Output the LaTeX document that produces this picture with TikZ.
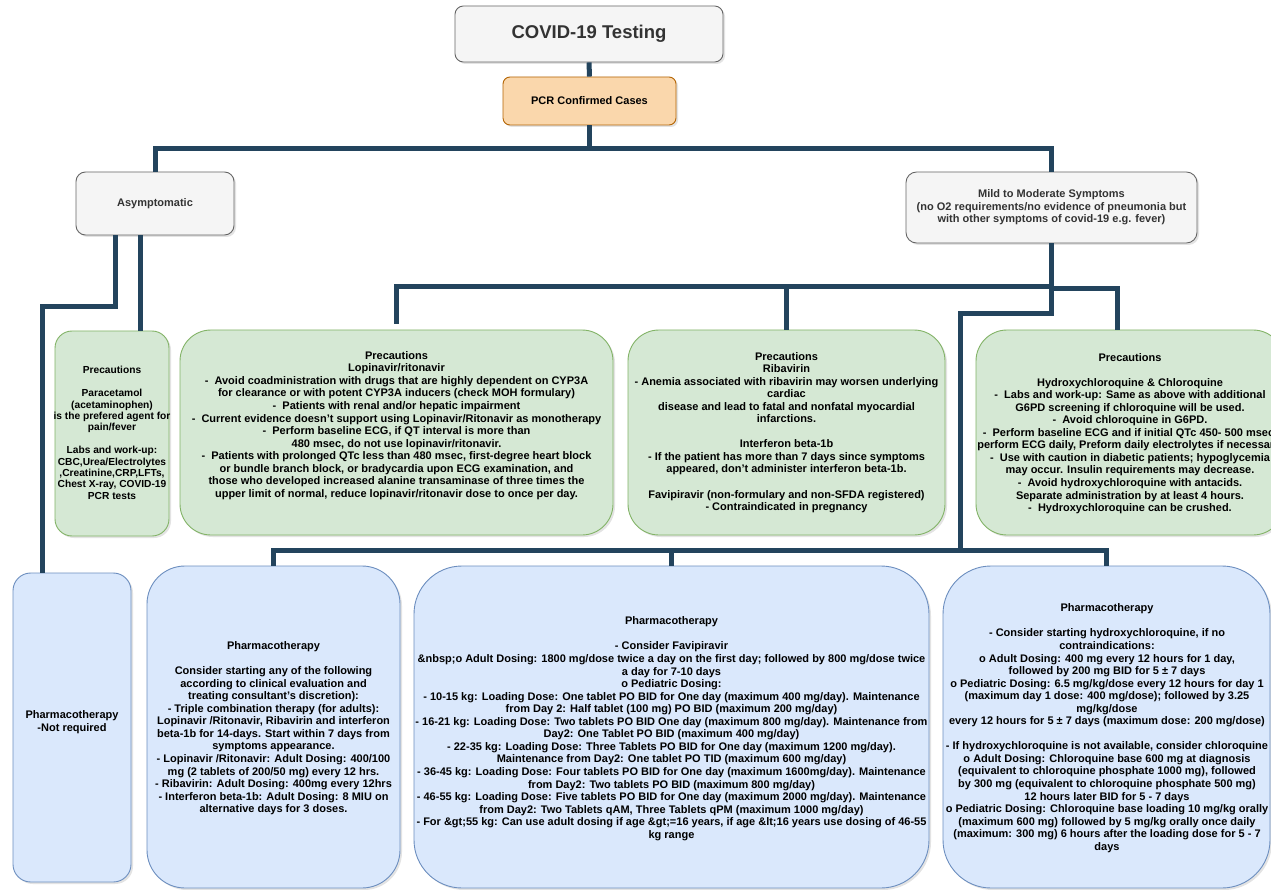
\documentclass[tikz,border=0pt]{standalone}
\usepackage{fontspec}
\setmainfont{Liberation Sans}
\usetikzlibrary{calc,shadows}

\definecolor{linkblue}{HTML}{23445D}
\definecolor{greyfill}{HTML}{F5F5F5}
\definecolor{greyline}{HTML}{666666}
\definecolor{greytext}{HTML}{333333}
\definecolor{orangefill}{HTML}{FAD7AC}
\definecolor{orangeline}{HTML}{B46504}
\definecolor{greenfill}{HTML}{D5E8D4}
\definecolor{greenline}{HTML}{82B366}
\definecolor{bluefill}{HTML}{DAE8FC}
\definecolor{blueline}{HTML}{6C8EBF}

% one empty text row inside a multi-line label
\newcommand{\emptyrow}{\\[\baselineskip]}

\tikzset{
  box/.style={draw, line width=0.9pt, inner sep=0pt,
    drop shadow={shadow xshift=2pt, shadow yshift=-2pt, opacity=0.22}},
  greybox/.style={box, fill=greyfill, draw=greyline},
  orangebox/.style={box, fill=orangefill, draw=orangeline},
  greenbox/.style={box, fill=greenfill, draw=greenline},
  bluebox/.style={box, fill=bluefill, draw=blueline},
  txt/.style={align=center, inner sep=0pt, text=black,
    font=\fontsize{11}{12.55}\selectfont\bfseries},
  smalltxt/.style={txt, font=\fontsize{10.2}{11.4}\selectfont\bfseries},
  greytxt/.style={txt, text=greytext},
  conn/.style={draw=linkblue, line width=5pt, line join=miter},
}

\begin{document}
\begin{tikzpicture}[x=1pt, y=-1pt]
\useasboundingbox (0,0) rectangle (1271,890);
\fill[white] (0,0) rectangle (1271,890);
\clip (0,0) rectangle (1271,890);

% ---------- boxes ----------
\node[greybox, rounded corners=8.4pt, minimum width=268pt, minimum height=56pt] (covid) at (589,34) {};
\node[orangebox, rounded corners=7pt, minimum width=173pt, minimum height=48pt] (pcr) at (589.5,101) {};
\node[greybox, rounded corners=9.5pt, minimum width=158pt, minimum height=63pt] (asym) at (155,203.5) {};
\node[greybox, rounded corners=10.6pt, minimum width=291pt, minimum height=71pt] (mild) at (1051.5,207.5) {};

\node[greenbox, rounded corners=17pt, minimum width=114pt, minimum height=205pt] (prec0) at (112,433.5) {};
\node[greenbox, rounded corners=31pt, minimum width=433pt, minimum height=205pt] (lopprec) at (396.5,432.5) {};
\node[greenbox, rounded corners=31pt, minimum width=317pt, minimum height=205pt] (ribprec) at (786.5,432.5) {};
\node[greenbox, rounded corners=31pt, minimum width=308pt, minimum height=205pt] (hcqprec) at (1130,432.5) {};

\node[bluebox, rounded corners=17.7pt, minimum width=118pt, minimum height=309pt] (notreq) at (72,727.5) {};
\node[bluebox, rounded corners=38pt, minimum width=253pt, minimum height=322pt] (lopph) at (273.5,727) {};
\node[bluebox, rounded corners=48pt, minimum width=515pt, minimum height=322pt] (favi) at (671.5,727) {};
\node[bluebox, rounded corners=48pt, minimum width=327pt, minimum height=322pt] (hcqph) at (1106.5,727) {};

% ---------- connectors ----------
\draw[conn] (covid.south) -- (pcr.north);
\draw[conn] (pcr.south) -- ++(0,23) -| (asym.north);
\draw[conn] (pcr.south) -- ++(0,23) -| (mild.north);

\draw[conn] ($(asym.south)+(-40,0)$) -- ++(0,71) -| ($(notreq.north)+(-30,0)$);
\draw[conn] ($(asym.south)+(-15,0)$) -- ($(prec0.north)+(28,0)$);

\draw[conn, shorten >=6pt] (mild.south) -- ++(0,43) -| (lopprec.north);
\draw[conn] (mild.south) -- ++(0,43) -| (ribprec.north);
\draw[conn] (mild.south) -- ++(0,45) -| ($(hcqprec.north)+(-13,0)$);

\draw[conn] (mild.south) -- ++(0,70) -| (960,550) -| (lopph.north);
\draw[conn] (mild.south) -- ++(0,70) -| (960,550) -| (favi.north);
\draw[conn] (mild.south) -- ++(0,70) -| (960,550) -| (hcqph.north);

% ---------- texts ----------
\node[greytxt, font=\fontsize{18.5}{22}\selectfont\bfseries] (covidT) at (covid.center) {COVID-19 Testing};
\node[txt] (pcrT) at (pcr.center) {PCR Confirmed Cases};
\node[greytxt] (asymT) at (asym.center) {Asymptomatic};
\node[greytxt] (mildT) at (mild.center) {Mild to Moderate Symptoms\\
(no O2 requirements/no evidence of pneumonia but\\
with other symptoms of covid-19 e.g. fever)};

\node[smalltxt] (prec0T) at (112,433) {Precautions\emptyrow
Paracetamol\\
(acetaminophen)\\
is the prefered agent for\\
pain/fever\emptyrow
Labs and work-up:\\
CBC,Urea/Electrolytes\\
,Creatinine,CRP,LFTs,\\
Chest X-ray, COVID-19\\
PCR tests};

\node[txt] (lopprecT) at (396.5,425.5) {Precautions\\
Lopinavir/ritonavir\\
-~ Avoid coadministration with drugs that are highly dependent on CYP3A\\
for clearance or with potent CYP3A inducers (check MOH formulary)\\
-~ Patients with renal and/or hepatic impairment\\
-~ Current evidence doesn’t support using Lopinavir/Ritonavir as monotherapy\\
-~ Perform baseline ECG, if QT interval is more than\\
480 msec, do not use lopinavir/ritonavir.\\
-~ Patients with prolonged QTc less than 480 msec, first-degree heart block\\
or bundle branch block, or bradycardia upon ECG examination, and\\
those who developed increased alanine transaminase of three times the\\
upper limit of normal, reduce lopinavir/ritonavir dose to once per day.};

\node[txt] (ribprecT) at (786.5,432.5) {Precautions\\
Ribavirin\\
- Anemia associated with ribavirin may worsen underlying\\
cardiac\\
disease and lead to fatal and nonfatal myocardial\\
infarctions.\emptyrow
Interferon beta-1b\\
- If the patient has more than 7 days since symptoms\\
appeared, don’t administer interferon beta-1b.\emptyrow
Favipiravir (non-formulary and non-SFDA registered)\\
- Contraindicated in pregnancy};

\node[txt] (hcqprecT) at (1130,433.5) {Precautions\emptyrow
Hydroxychloroquine \& Chloroquine\\
-~ Labs and work-up: Same as above with additional\\
G6PD screening if chloroquine will be used.\\
-~ Avoid chloroquine in G6PD.\\
-~ Perform baseline ECG and if initial QTc 450- 500 msec,\\
perform ECG daily, Preform daily electrolytes if necessary.\\
-~ Use with caution in diabetic patients; hypoglycemia\\
may occur. Insulin requirements may decrease.\\
-~ Avoid hydroxychloroquine with antacids.\\
Separate administration by at least 4 hours.\\
-~ Hydroxychloroquine can be crushed.};

\node[txt] (notreqT) at (72,722) {Pharmacotherapy\\
-Not required};

\node[txt] (lopphT) at (273.5,728.3) {Pharmacotherapy\emptyrow
Consider starting any of the following\\
according to clinical evaluation and\\
treating consultant\symbol{39}s discretion):\\
- Triple combination therapy (for adults):\\
Lopinavir /Ritonavir, Ribavirin and interferon\\
beta-1b for 14-days. Start within 7 days from\\
symptoms appearance.\\
- Lopinavir /Ritonavir: Adult Dosing: 400/100\\
mg (2 tablets of 200/50 mg) every 12 hrs.\\
- Ribavirin: Adult Dosing: 400mg every 12hrs\\
- Interferon beta-1b: Adult Dosing: 8 MIU on\\
alternative days for 3 doses.};

\node[txt] (faviT) at (671.5,728.7) {Pharmacotherapy\emptyrow
- Consider Favipiravir\\
\&nbsp;o Adult Dosing: 1800 mg/dose twice a day on the first day; followed by 800 mg/dose twice\\
a day for 7-10 days\\
o Pediatric Dosing:\\
- 10-15 kg: Loading Dose: One tablet PO BID for One day (maximum 400 mg/day). Maintenance\\
from Day 2: Half tablet (100 mg) PO BID (maximum 200 mg/day)\\
- 16-21 kg: Loading Dose: Two tablets PO BID One day (maximum 800 mg/day). Maintenance from\\
Day2: One Tablet PO BID (maximum 400 mg/day)\\
- 22-35 kg: Loading Dose: Three Tablets PO BID for One day (maximum 1200 mg/day).\\
Maintenance from Day2: One tablet PO TID (maximum 600 mg/day)\\
- 36-45 kg: Loading Dose: Four tablets PO BID for One day (maximum 1600mg/day). Maintenance\\
from Day2: Two tablets PO BID (maximum 800 mg/day)\\
- 46-55 kg: Loading Dose: Five tablets PO BID for One day (maximum 2000 mg/day). Maintenance\\
from Day2: Two Tablets qAM, Three Tablets qPM (maximum 1000 mg/day)\\
- For \&gt;55 kg: Can use adult dosing if age \&gt;=16 years, if age \&lt;16 years use dosing of 46-55\\
kg range};

\node[txt] (hcqphT) at (1107,728.2) {Pharmacotherapy\emptyrow
- Consider starting hydroxychloroquine, if no\\
contraindications:\\
o Adult Dosing: 400 mg every 12 hours for 1 day,\\
followed by 200 mg BID for 5 ± 7 days\\
o Pediatric Dosing: 6.5 mg/kg/dose every 12 hours for day 1\\
(maximum day 1 dose: 400 mg/dose); followed by 3.25\\
mg/kg/dose\\
every 12 hours for 5 ± 7 days (maximum dose: 200 mg/dose)\emptyrow
- If hydroxychloroquine is not available, consider chloroquine\\
o Adult Dosing: Chloroquine base 600 mg at diagnosis\\
(equivalent to chloroquine phosphate 1000 mg), followed\\
by 300 mg (equivalent to chloroquine phosphate 500 mg)\\
12 hours later BID for 5 - 7 days\\
o Pediatric Dosing: Chloroquine base loading 10 mg/kg orally\\
(maximum 600 mg) followed by 5 mg/kg orally once daily\\
(maximum: 300 mg) 6 hours after the loading dose for 5 - 7\\
days};
\end{tikzpicture}
\end{document}
